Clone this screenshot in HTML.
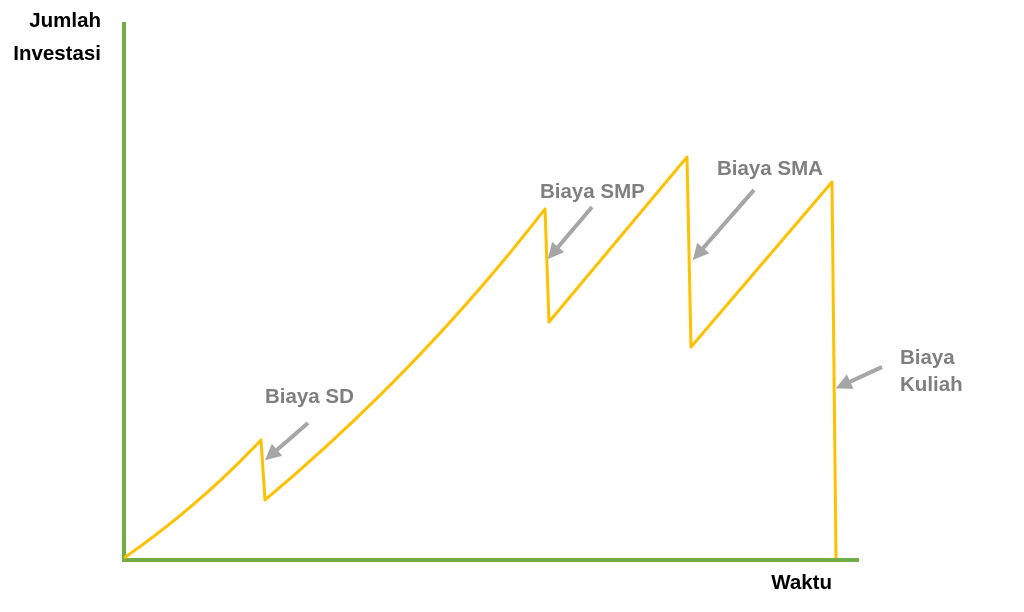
<!DOCTYPE html>
<html><head><style>
body{margin:0;background:#fff;}
svg{display:block;}
text{font-family:"Liberation Sans",sans-serif;font-weight:bold;font-size:20.5px;}
</style></head><body>
<svg width="1024" height="612" viewBox="0 0 1024 612">
<defs><marker id="a" markerWidth="4" markerHeight="4" refX="2" refY="2" orient="auto" markerUnits="strokeWidth"><path d="M0,0 L4,2 L0,4 Z" fill="#a6a6a6"/></marker></defs>
<line x1="124" y1="22" x2="124" y2="562" stroke="#70ad47" stroke-width="4"/>
<line x1="122" y1="560" x2="859" y2="560" stroke="#70ad47" stroke-width="4"/>
<path d="M124,558 Q200,505 261,440 L265,500 Q420,370 545,209 L549,322 L687,157 L691,347 L832,182 L836,558" fill="none" stroke="#ffc000" stroke-width="3" stroke-linejoin="round"/>
<g stroke="#a6a6a6" stroke-width="4" marker-end="url(#a)">
<line x1="308" y1="423" x2="271" y2="455"/>
<line x1="592" y1="207" x2="553" y2="253"/>
<line x1="754" y1="190" x2="698" y2="254"/>
<line x1="882" y1="367" x2="843" y2="385"/>
</g>
<g fill="#000">
<text x="101" y="27" text-anchor="end">Jumlah</text>
<text x="101" y="60" text-anchor="end">Investasi</text>
<text x="832" y="589" text-anchor="end">Waktu</text>
</g>
<g fill="#7f7f7f">
<text x="265" y="403">Biaya SD</text>
<text x="540" y="198">Biaya SMP</text>
<text x="717" y="175">Biaya SMA</text>
<text x="900" y="364">Biaya</text>
<text x="900" y="391">Kuliah</text>
</g>
</svg>
</body></html>
